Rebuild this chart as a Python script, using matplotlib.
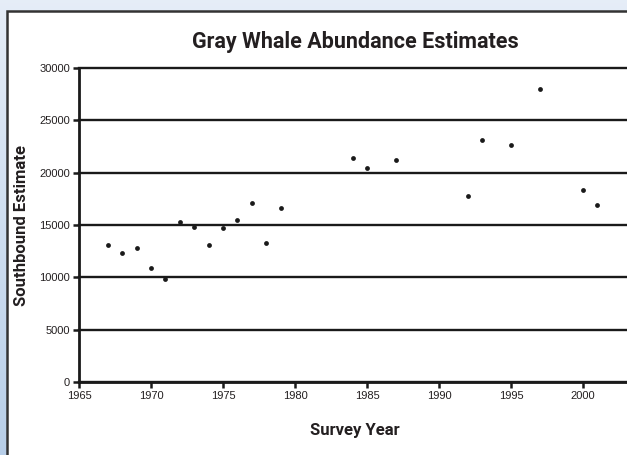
import numpy as np
import matplotlib
matplotlib.use('Agg')
import matplotlib.pyplot as plt
from matplotlib.patches import Rectangle

# data
# ---
years = [1967, 1968, 1969, 1970, 1971, 1972, 1973, 1974, 1975, 1976, 1977, 1978, 1979,
         1984, 1985, 1987, 1992, 1993, 1995, 1997, 2000, 2001]
estimates = [13100, 12300, 12800, 10900, 9800, 15300, 14800, 13100, 14700, 15500, 17100, 13300, 16600,
             21400, 20400, 21200, 17800, 23100, 22600, 28000, 18300, 16900]

x_ticks = [1965, 1970, 1975, 1980, 1985, 1990, 1995, 2000]
y_ticks = [0, 5000, 10000, 15000, 20000, 25000, 30000]

title = 'Gray Whale Abundance Estimates'
xlabel = 'Survey Year'
ylabel = 'Southbound Estimate'

# figure setup
# ---
W, H = 627, 455
fig = plt.figure(figsize=(W / 100, H / 100), dpi=100)

txt = '#231f20'
narrow = ['Roboto', 'DejaVu Sans']
plt.rcParams['font.family'] = ['Liberation Sans', 'DejaVu Sans']

# light blue background with a white framed panel
bg = fig.add_axes([0, 0, 1, 1], zorder=-10)
grad = np.linspace(0, 1, 200)[:, None]
top_col = np.array([0.90, 0.93, 0.97])
bot_col = np.array([0.72, 0.81, 0.91])
img = top_col[None, None, :] * (1 - grad[..., None]) + bot_col[None, None, :] * grad[..., None]
bg.imshow(np.repeat(img, 2, axis=1), aspect='auto', extent=[0, 1, 0, 1])
bg.add_patch(Rectangle((6.5 / W, -0.05), 1.1, 1 - 10.5 / H + 0.05,
                       facecolor='white', edgecolor='#333333', lw=1.8))
bg.set_xlim(0, 1)
bg.set_ylim(0, 1)
bg.axis('off')

# plot area
# ---
x0, x1 = 79, W
y_top, y_bot = 68, 382
ax = fig.add_axes([x0 / W, 1 - y_bot / H, (x1 - x0) / W, (y_bot - y_top) / H])
ax.patch.set_alpha(0)

ax.scatter(years, estimates, s=12, color='#1a1a1a', zorder=3, linewidths=0)

ax.set_xlim(1965, 1965 + (x1 - x0) / 14.4)
ax.set_ylim(0, 30000)
ax.set_xticks(x_ticks)
ax.set_yticks(y_ticks)
ax.set_xticklabels([str(v) for v in x_ticks])
ax.set_yticklabels([str(v) for v in y_ticks])

ax.grid(axis='y', color='#1a1a1a', lw=1.7)
for gl in ax.get_ygridlines():
    gl.set_clip_on(False)
ax.set_axisbelow(True)

for side in ['top', 'right']:
    ax.spines[side].set_visible(False)
for side in ['left', 'bottom']:
    ax.spines[side].set_linewidth(2)
    ax.spines[side].set_color('#1a1a1a')

ax.tick_params(axis='both', direction='out', length=4, width=1.8, color='#1a1a1a',
               labelsize=8, labelcolor=txt)
ax.tick_params(axis='y', pad=2.5)
ax.tick_params(axis='x', pad=2.5)

# text
# ---
fig.text(355 / W, 1 - 42 / H, title, ha='center', va='center', fontsize=15.5,
         fontweight='bold', family=narrow, color=txt)
fig.text(355 / W, 1 - 430 / H, xlabel, ha='center', va='center', fontsize=12,
         fontweight='bold', family=narrow, color=txt)
fig.text(21.5 / W, 1 - 225 / H, ylabel, ha='center', va='center', fontsize=12,
         fontweight='bold', family=narrow, color=txt, rotation=90)

fig.savefig('out.png', dpi=100)
plt.close()
